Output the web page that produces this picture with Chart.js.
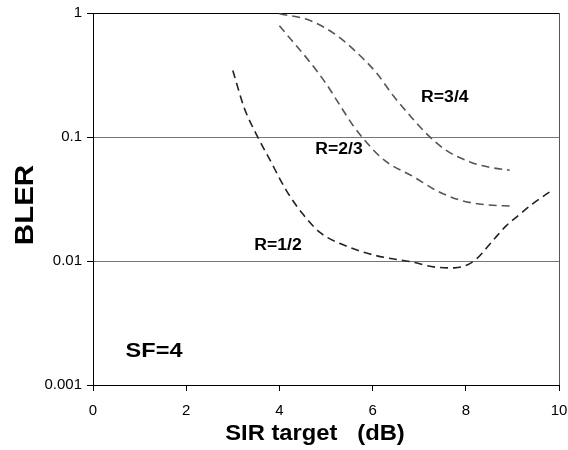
<!DOCTYPE html>
<html>
<head>
<meta charset="utf-8">
<script src="https://cdn.jsdelivr.net/npm/chart.js@4"></script>
<style>
    html, body { margin: 0; padding: 0; background: #fff; }
    #wrap { width: 568px; height: 450px; }
</style>
</head>
<body>
<div id="wrap"><canvas id="blerChart" width="568" height="450"></canvas></div>
<script>
// values
const sirHalf = [3.0, 3.25, 3.5, 3.8, 4.15, 4.5, 4.87, 5.37, 5.87, 6.3, 6.8, 7.37, 7.76, 8.0, 8.23, 8.58, 8.87, 9.08, 9.44, 9.86];
const blerHalf = [0.344, 0.17, 0.106, 0.065, 0.037, 0.024, 0.017, 0.0135, 0.0116, 0.0106, 0.0099, 0.0089, 0.0088, 0.0092, 0.0104, 0.0146, 0.0193, 0.0225, 0.029, 0.0374];

const sirTwoThirds = [4.0, 4.3, 4.66, 5.0, 5.3, 5.58, 5.8, 6.25, 6.87, 7.37, 7.87, 8.44, 8.98];
const blerTwoThirds = [0.79, 0.58, 0.40, 0.27, 0.18, 0.124, 0.097, 0.065, 0.048, 0.037, 0.031, 0.0284, 0.0277];

const sirThreeQuarters = [4.0, 4.66, 5.23, 5.66, 6.08, 6.44, 6.8, 7.16, 7.58, 8.09, 8.51, 8.94];
const blerThreeQuarters = [0.985, 0.87, 0.66, 0.48, 0.33, 0.216, 0.149, 0.106, 0.078, 0.063, 0.057, 0.054];

const yTicks = [0.001, 0.01, 0.1, 1];
const yTickLabels = ['0.001', '0.01', '0.1', '1'];
const xTicks = [0, 2, 4, 6, 8, 10];

const curveLabels = ['R=1/2', 'R=2/3', 'R=3/4'];
const curveLabelX = [3.97, 5.28, 7.55];
const curveLabelY = [0.0133, 0.0785, 0.208];

const FONT = '"Liberation Sans", Arial, sans-serif';

function toPoints(xs, ys) {
    return xs.map((x, i) => ({ x: x, y: ys[i] }));
}

// draw text slightly stretched along its baseline, like the original
function stretchedText(ctx, text, x, y, sx) {
    ctx.save();
    ctx.translate(x, y);
    ctx.scale(sx, 1);
    ctx.fillText(text, 0, 0);
    ctx.restore();
}

const textPlugin = {
    id: 'chartText',
    afterDraw(chart) {
        const ctx = chart.ctx;
        const xs = chart.scales.x;
        const ys = chart.scales.y;
        const area = chart.chartArea;
        ctx.save();
        ctx.fillStyle = '#000';
        ctx.textAlign = 'center';
        ctx.textBaseline = 'middle';

        ctx.font = 'bold 16px ' + FONT;
        curveLabels.forEach((t, i) => {
            stretchedText(ctx, t, xs.getPixelForValue(curveLabelX[i]), ys.getPixelForValue(curveLabelY[i]), 1.1);
        });

        ctx.font = 'bold 21px ' + FONT;
        stretchedText(ctx, 'SF=4', xs.getPixelForValue(1.31), ys.getPixelForValue(0.00187), 1.12);

        // axis titles
        ctx.font = 'bold 22px ' + FONT;
        stretchedText(ctx, 'SIR target   (dB)', (area.left + area.right) / 2 - 11, 434, 1.08);

        ctx.translate(26, (area.top + area.bottom) / 2 + 6);
        ctx.rotate(-Math.PI / 2);
        ctx.font = 'bold 25px ' + FONT;
        stretchedText(ctx, 'BLER', 0, 0, 1.18);
        ctx.restore();
    }
};

function makeDataset(label, xs, ys, color) {
    return {
        label: label,
        data: toPoints(xs, ys),
        borderColor: color,
        borderWidth: 1.6,
        borderDash: [8, 5],
        pointRadius: 0,
        fill: false,
        cubicInterpolationMode: 'monotone'
    };
}

const ctx = document.getElementById('blerChart').getContext('2d');
window.blerChart = new Chart(ctx, {
    type: 'line',
    data: {
        datasets: [
            makeDataset('R=1/2', sirHalf, blerHalf, '#222'),
            makeDataset('R=2/3', sirTwoThirds, blerTwoThirds, '#555'),
            makeDataset('R=3/4', sirThreeQuarters, blerThreeQuarters, '#555')
        ]
    },
    options: {
        responsive: false,
        animation: false,
        layout: {
            padding: { left: 0, top: 13, right: 9, bottom: 0 }
        },
        plugins: {
            legend: { display: false },
            tooltip: { enabled: false }
        },
        scales: {
            x: {
                type: 'linear',
                min: 0,
                max: 10,
                afterFit: function(scale) {
                    scale.height = 65;
                    scale.paddingLeft = 0;
                    scale.paddingRight = 0;
                },
                afterBuildTicks: function(scale) {
                    scale.ticks = xTicks.map(v => ({ value: v }));
                },
                ticks: {
                    color: '#000',
                    font: { family: FONT, size: 15 },
                    padding: 11,
                    maxRotation: 0,
                    callback: function(value) { return String(value); }
                },
                grid: {
                    color: function(c) { return c.tick && c.tick.value === 10 ? '#555' : 'rgba(0,0,0,0)'; },
                    tickColor: '#000',
                    tickLength: 6,
                    lineWidth: 1
                },
                border: { color: '#000', width: 1 }
            },
            y: {
                type: 'logarithmic',
                min: 0.001,
                max: 1,
                afterFit: function(scale) {
                    scale.width = 93;
                    scale.paddingTop = 0;
                    scale.paddingBottom = 0;
                },
                afterBuildTicks: function(scale) {
                    scale.ticks = yTicks.map(v => ({ value: v }));
                },
                ticks: {
                    color: '#000',
                    font: { family: FONT, size: 15 },
                    padding: 5,
                    callback: function(value) {
                        const i = yTicks.indexOf(value);
                        return i >= 0 ? yTickLabels[i] : '';
                    }
                },
                grid: {
                    color: function(c) { return c.tick && c.tick.value === 1 ? '#000' : '#777'; },
                    tickColor: '#000',
                    tickLength: 6,
                    lineWidth: 1
                },
                border: { color: '#000', width: 1 }
            }
        }
    },
    plugins: [textPlugin]
});
</script>
</body>
</html>
